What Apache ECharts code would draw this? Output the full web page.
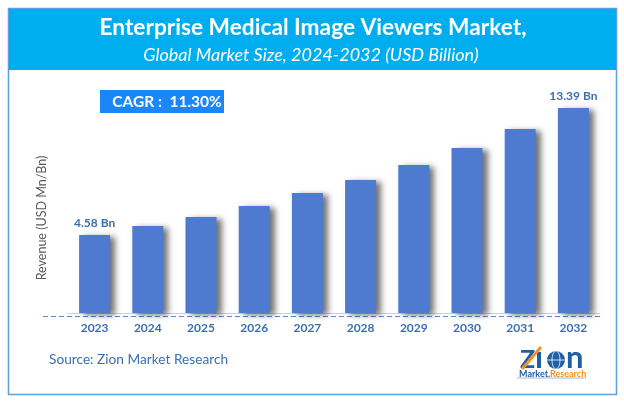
<!DOCTYPE html>
<html>
<head>
<meta charset="utf-8">
<style>
html,body{margin:0;padding:0;background:#fff;}
#chart{width:624px;height:404px;}
</style>
<script src="https://cdn.jsdelivr.net/npm/echarts@6/dist/echarts.min.js"></script>
</head>
<body>
<div id="chart"></div>
<script>
var years=['2023','2024','2025','2026','2027','2028','2029','2030','2031','2032'];
var revenue=[4.58,5.20,5.83,6.59,7.49,8.39,9.43,10.61,11.93,13.39];
var barLabels=['4.58 Bn','','','','','','','','','13.39 Bn'];

var font='Lato';
var blueText='#3a6fb0';
// the bars in the picture do not start from zero
var axisMin=-0.83;

var myChart=echarts.init(document.getElementById('chart'),null,{renderer:'canvas'});

// plain bar series always grow from value 0, so draw them from the axis floor
function renderBar(params,api){
  var top=api.coord([api.value(0),api.value(1)]);
  var bottom=api.coord([api.value(0),axisMin]);
  return {
    type:'rect',
    shape:{x:top[0]-15.5,y:top[1],width:31,height:bottom[1]-top[1]},
    style:{
      fill:'#4e7bd0',
      shadowColor:'rgba(0,0,0,0.55)',
      shadowBlur:6,
      shadowOffsetX:5,
      shadowOffsetY:2
    },
    textContent:{
      style:{
        text:barLabels[params.dataIndex],
        fill:blueText,
        font:'bold 12px '+font
      }
    },
    textConfig:{position:'top',distance:6}
  };
}

var option={
  backgroundColor:'#fff',
  animation:false,
  grid:{left:68,right:24,top:88,bottom:91},
  xAxis:{
    type:'category',
    data:years,
    axisLine:{show:true,onZero:false,lineStyle:{color:'#d0d0d0',width:1}},
    axisTick:{show:false},
    axisLabel:{color:blueText,fontFamily:font,fontWeight:'bold',fontSize:12,margin:9}
  },
  yAxis:{type:'value',min:axisMin,max:14.77,show:false},
  series:[{
    type:'custom',
    renderItem:renderBar,
    encode:{x:0,y:1},
    data:revenue.map(function(v,i){return [i,v];})
  }],
  graphic:[
    // frame + header
    {type:'rect',z:0,shape:{x:8.5,y:8.5,width:608,height:386},style:{fill:'#fff',stroke:'#5b9fdc',lineWidth:1.5}},
    {type:'rect',z:1,shape:{x:9,y:9,width:607,height:61},style:{fill:'#00aeef'}},
    {type:'text',z:2,x:313,y:28,style:{text:'Enterprise Medical Image Viewers Market,',fill:'#fff',font:'bold 22.7px '+font,align:'center',verticalAlign:'middle'}},
    {type:'text',z:2,x:311,y:55,style:{text:'Global Market Size, 2024-2032 (USD Billion)',fill:'#fff',font:'italic 18px '+font,align:'center',verticalAlign:'middle'}},
    // CAGR
    {type:'rect',z:2,shape:{x:100,y:90,width:124,height:23},style:{fill:'#1b86f5'}},
    {type:'text',z:3,x:167,y:102,style:{text:'CAGR :  11.30%',fill:'#fff',font:'bold 15.5px '+font,align:'center',verticalAlign:'middle'}},
    // y axis title
    {type:'text',z:2,x:42,y:218,rotation:Math.PI/2,style:{text:'Revenue (USD Mn/Bn)',fill:'#595959',font:'12.5px '+font,align:'center',verticalAlign:'middle'}},
    // dashed line under the bars
    {type:'line',z:2,shape:{x1:43,y1:316.5,x2:600,y2:316.5},style:{stroke:'#5b86c8',lineWidth:1,lineDash:[5,3]}},
    {type:'text',z:2,x:49,y:360,style:{text:'Source: Zion Market Research',fill:blueText,font:'13.7px '+font,verticalAlign:'middle'}},
    // logo
    {type:'text',z:2,x:520,y:360,style:{text:'Z',fill:'#1f5fa8',font:'bold 25px '+font,verticalAlign:'middle'}},
    {type:'line',z:3,shape:{x1:522,y1:369,x2:541,y2:347},style:{stroke:'#f5921e',lineWidth:3}},
    {type:'rect',z:2,shape:{x:537,y:352,width:4,height:16},style:{fill:'#1f5fa8'}},
    {type:'circle',z:2,shape:{cx:556,cy:360,r:9},style:{fill:'#1f5fa8'}},
    {type:'ellipse',z:3,shape:{cx:556,cy:360,rx:4,ry:9},style:{fill:'none',stroke:'#fff',lineWidth:0.8}},
    {type:'line',z:3,shape:{x1:547,y1:360,x2:565,y2:360},style:{stroke:'#fff',lineWidth:0.8}},
    {type:'text',z:2,x:566,y:358,style:{text:'n',fill:'#1f5fa8',font:'bold 31px '+font,verticalAlign:'middle'}},
    {type:'text',z:2,x:519,y:374,style:{text:'Market.',fill:'#1f5fa8',font:'bold 9px '+font,verticalAlign:'middle'}},
    {type:'text',z:2,x:550,y:374,style:{text:'Research',fill:'#f5921e',font:'bold 9px '+font,verticalAlign:'middle'}},
    {type:'line',z:2,shape:{x1:517,y1:378,x2:586,y2:378},style:{stroke:'#9db8d8',lineWidth:1}}
  ]
};
myChart.setOption(option);
</script>
</body>
</html>
